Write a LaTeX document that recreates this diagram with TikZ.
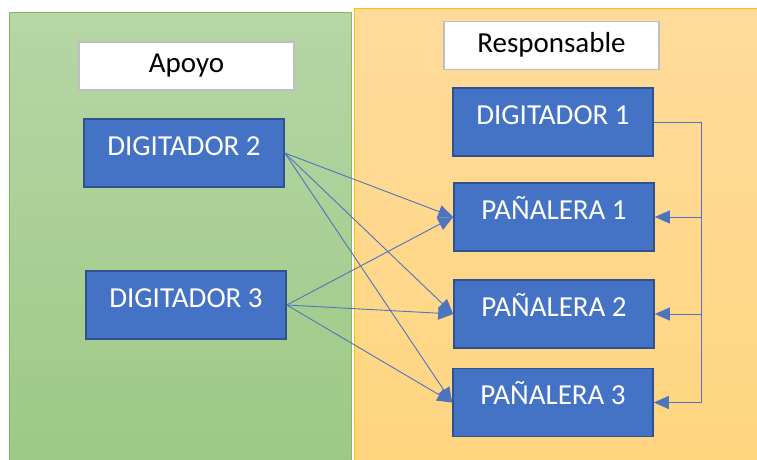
\documentclass[tikz,border=0pt]{standalone}
\usepackage{fontspec}
\setmainfont{Carlito}
\usetikzlibrary{arrows.meta}
\definecolor{boxblue}{HTML}{4472C4}
\definecolor{boxedge}{HTML}{2F528F}
\definecolor{greentop}{RGB}{182,214,166}
\definecolor{greenbot}{RGB}{157,201,133}
\definecolor{greenedge}{RGB}{130,185,100}
\definecolor{orangetop}{RGB}{255,219,155}
\definecolor{orangebot}{RGB}{255,213,128}
\definecolor{orangeedge}{RGB}{255,192,0}
\definecolor{labeledge}{RGB}{191,191,191}
\definecolor{conncol}{RGB}{78,116,190}
\tikzset{
  blk/.style={draw=boxedge, line width=1.6pt, fill=boxblue, text=white,
    minimum width=200pt, inner xsep=0pt, inner ysep=0pt,
    text height=36pt, text depth=32pt,
    font=\fontsize{29}{32}\selectfont},
  lbl/.style={draw=labeledge, line width=1.6pt, fill=white, text=black,
    minimum width=215pt, inner xsep=0pt, inner ysep=0pt,
    text height=31pt, text depth=17pt,
    font=\fontsize{29}{32}\selectfont},
  conn/.style={draw=conncol, line width=0.9pt,
    -{Triangle[length=15pt,width=13pt]}}
}
\begin{document}
\begin{tikzpicture}[x=1pt,y=-1pt]
\useasboundingbox (0,0) rectangle (757,460);
% panels
\shade[top color=greentop, bottom color=greenbot] (9,13) rectangle (351,460);
\draw[greenedge, line width=1pt] (9,460) -- (9,13) -- (351,13) -- (351,460);
\shade[top color=orangetop, bottom color=orangebot] (354,9) rectangle (757,460);
\draw[orangeedge, line width=1pt] (354,460) -- (354,9) -- (757,9);
% labels
\node[lbl] (apoyo) at (186.5,66) {Apoyo};
\node[lbl] (resp) at (551.5,45.5) {Responsable};
% boxes
\node[blk] (d2) at (184,153) {DIGITADOR 2\hspace{4pt}};
\node[blk] (d3) at (186,305) {DIGITADOR 3\hspace{4pt}};
\node[blk] (d1) at (553,122) {DIGITADOR 1\hspace{6pt}};
\node[blk] (p1) at (554,217) {PAÑALERA 1\hspace{10pt}};
\node[blk] (p2) at (554,314) {PAÑALERA 2\hspace{10pt}};
\node[blk] (p3) at (553,402.5) {PAÑALERA 3\hspace{10pt}};
% connectors from left
\foreach \s in {d2,d3}{
  \foreach \t in {p1,p2,p3}{
    \draw[conn] (\s.east) -- (\t.west);
  }
}
% bus from DIGITADOR 1
\coordinate (bus) at (701,0);
\draw[conn] (d1.east) -| (bus |- p3.east) -- (p3.east);
\draw[conn] (bus |- p1.east) -- (p1.east);
\draw[conn] (bus |- p2.east) -- (p2.east);
\end{tikzpicture}
\end{document}
